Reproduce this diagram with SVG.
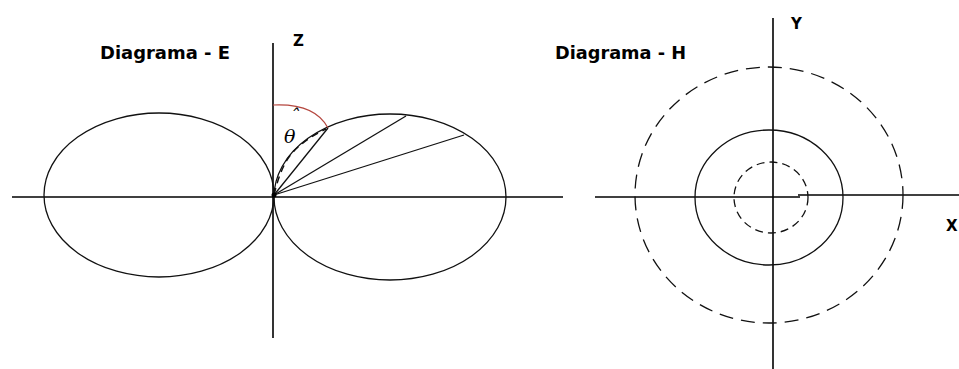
<svg xmlns="http://www.w3.org/2000/svg" width="959" height="369" viewBox="0 0 959 369">
  <style>
    .ln { fill: none; stroke: #111; stroke-width: 1.3; }
    .ax { fill: none; stroke: #000; stroke-width: 1.6; }
    .dO { stroke-dasharray: 14 8; }
    .dI { stroke-dasharray: 8 5; }
    .dL { stroke-dasharray: 7 5; stroke-width: 1.5; }
    .ttl { font-family: "DejaVu Sans", "Liberation Sans", sans-serif; font-weight: bold; font-size: 17px; fill: #000; }
    .axl { font-family: "DejaVu Sans", "Liberation Sans", sans-serif; font-weight: bold; font-size: 15px; fill: #000; }
    .sym { font-family: "DejaVu Serif", "Liberation Serif", serif; font-style: italic; font-size: 19px; fill: #000; }
  </style>
  <rect width="959" height="369" fill="#fff"/>

  <g id="diagram-e">
    <text class="ttl" x="100" y="59" textLength="130" lengthAdjust="spacingAndGlyphs">Diagrama - E</text>
    <text class="axl" x="293" y="46">Z</text>
    <line class="ax" x1="273" y1="43" x2="273" y2="338"/>
    <line class="ax" x1="12" y1="197" x2="563" y2="197"/>
    <ellipse class="ln" cx="159" cy="195" rx="115" ry="82"/>
    <ellipse class="ln" cx="390" cy="197" rx="116" ry="83"/>
    <path d="M273,105 Q315,103 328,128" fill="none" stroke="#b5473f" stroke-width="1.2"/>
    <path class="ln dL" d="M274,195 Q281,165 293,152 Q305,139 326,129"/>
    <line class="ln" x1="274" y1="195" x2="328" y2="128"/>
    <line class="ln" x1="274" y1="195" x2="406" y2="116"/>
    <line class="ln" x1="274" y1="195" x2="464" y2="135"/>
    <circle cx="274" cy="195" r="2.5" fill="#000"/>
    <text class="sym" x="284" y="143">θ</text>
    <text class="sym" x="290" y="123" font-size="12" font-style="normal">ˆ</text>
  </g>

  <g id="diagram-h">
    <text class="ttl" x="555" y="59" textLength="131" lengthAdjust="spacingAndGlyphs">Diagrama - H</text>
    <text class="axl" x="791" y="29" font-size="13">Y</text>
    <text class="axl" x="946" y="231">X</text>
    <line class="ax" x1="773" y1="18" x2="773" y2="369"/>
    <line class="ax" x1="595" y1="197" x2="800" y2="197"/>
    <line class="ax" x1="798" y1="195" x2="959" y2="195"/>
    <ellipse class="ln dO" cx="769" cy="195" rx="134" ry="128"/>
    <ellipse class="ln" cx="769" cy="197.5" rx="74" ry="67.5"/>
    <ellipse class="ln dI" cx="771" cy="197.5" rx="37" ry="35.5"/>
  </g>
</svg>
